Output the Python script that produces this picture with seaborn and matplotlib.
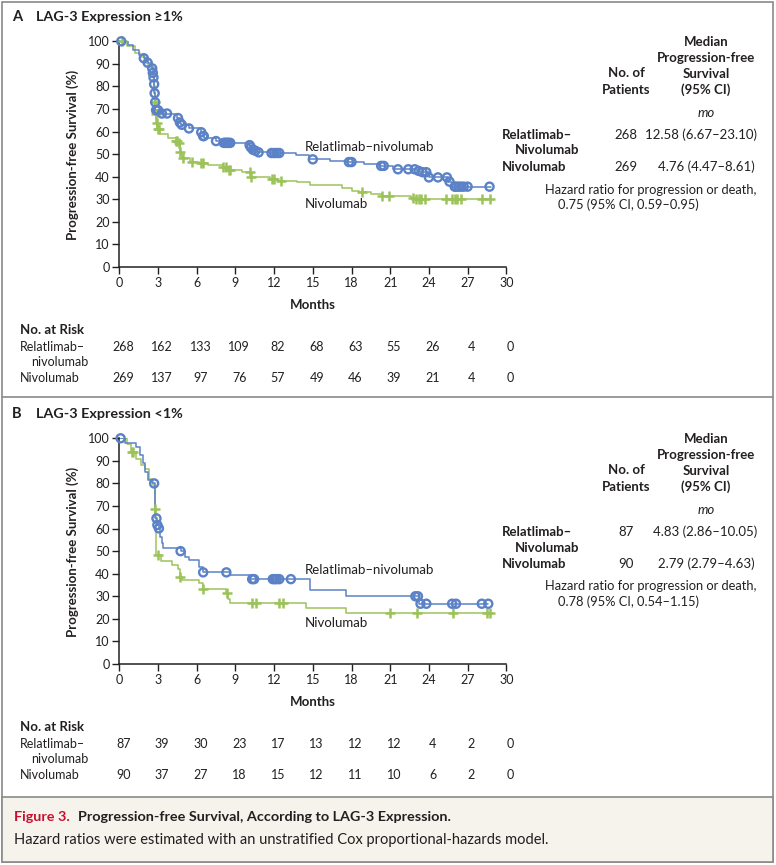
import numpy as np
import pandas as pd
import matplotlib
matplotlib.use("Agg")
import matplotlib.pyplot as plt
import matplotlib.transforms as mtransforms
from matplotlib.patches import Rectangle
import seaborn as sns

# ---------------- data ----------------
months_ticks = [0, 3, 6, 9, 12, 15, 18, 21, 24, 27, 30]
surv_ticks = [0, 10, 20, 30, 40, 50, 60, 70, 80, 90, 100]

# Panel A (LAG-3 >= 1%)
A_rel_t = [0, 0.7, 1.1, 1.5, 1.9, 2.2, 2.5, 2.58, 2.63, 2.68, 2.72, 2.76, 2.8, 3.2, 4.5, 4.65, 4.8, 5.4,
           6.3, 6.45, 6.6, 7.5, 8.0, 10.05, 10.15, 10.3, 10.5, 10.7, 11.7, 13.7, 14.7, 16.3, 17.6, 19.0,
           20.1, 21.2, 23.1, 23.3, 24.0, 25.5, 25.8, 28.8]
A_rel_s = [100, 98.4, 96.1, 94, 92.5, 90.5, 88, 86, 84, 81, 77, 73, 69.5, 68, 66, 64, 63, 61.4,
           59.7, 58, 57, 55.8, 55, 54, 53, 52, 51.5, 50.8, 50.5, 49.6, 47.7, 47, 46.5, 45.5,
           44.8, 43.3, 42.6, 42.0, 39.7, 37.8, 35.6, 35.6]
A_rel_cens = [0.15, 1.9, 2.2, 2.55, 2.6, 2.65, 2.7, 2.74, 2.78, 2.85, 3.0, 3.3, 3.7, 4.55, 4.7, 4.85, 5.4,
              6.35, 6.5, 6.55, 7.5, 8.1, 8.2, 8.3, 8.4, 8.5, 8.6, 10.1, 10.2, 10.35, 10.55, 10.8,
              11.8, 12.0, 12.2, 12.4, 15.0, 17.8, 18.0, 20.3, 20.5, 21.6, 22.4, 22.9, 23.2, 23.5, 23.8,
              24.0, 24.7, 25.4, 25.6, 26.0, 26.1, 26.3, 26.5, 26.7, 27.0, 28.7]

A_niv_t = [0, 0.6, 1.2, 1.6, 2.0, 2.2, 2.68, 2.74, 2.8, 2.86, 2.95, 3.15, 3.8, 4.4, 4.6, 4.7, 4.85, 5.5,
           6.2, 6.9, 8.0, 8.5, 9.5, 10.2, 11.7, 12.3, 13.8, 14.8, 17.3, 18.0, 18.6, 19.5, 20.4, 22.6,
           23.0, 28.8]
A_niv_s = [100, 98, 95, 93, 90.5, 88.5, 80, 73, 68, 64, 61, 59, 57, 56, 55, 50.8, 48.2, 46.7,
           46, 45.2, 44.5, 43, 42.2, 40, 39, 38.3, 37.6, 36.2, 34.9, 33.7, 33.2, 32.3, 31.4, 30.5,
           30, 30]
A_niv_cens = [0.2, 2.75, 2.82, 2.9, 3.0, 3.1, 4.4, 4.5, 4.6, 4.72, 4.9, 5.6, 6.3, 6.5, 8.0, 8.3,
              8.5, 8.6, 10.1, 10.2, 11.8, 12.0, 12.5, 18.8, 20.4, 20.9, 22.8, 23.0, 23.2, 23.4, 23.7,
              25.3, 25.8, 26.0, 26.2, 26.5, 28.1, 28.7]

# Panel B (LAG-3 < 1%)
B_rel_t = [0, 0.45, 1.3, 1.6, 1.85, 2.0, 2.25, 2.5, 2.78, 2.9, 3.05, 3.15, 3.3, 3.4, 4.75, 5.1, 5.4,
           6.2, 6.5, 8.6, 10.1, 14.8, 17.6, 23.2, 28.6]
B_rel_s = [100, 98, 96.3, 92.6, 88.9, 85, 81.5, 80, 64.5, 61.6, 60.1, 56.4, 53.5, 51.3, 50, 47.6, 46,
           43, 40.6, 39.4, 37.6, 32.8, 30, 26.7, 26.7]
B_rel_cens = [0.1, 2.7, 2.88, 2.95, 3.07, 4.75, 6.5, 8.3, 10.3, 10.45, 11.9, 12.05, 12.2, 12.4, 13.3,
              22.95, 23.15, 23.35, 23.8, 25.8, 26.1, 28.1, 28.6]

B_niv_t = [0, 0.6, 0.9, 1.3, 1.7, 2.0, 2.3, 2.6, 2.75, 2.85, 3.2, 4.1, 4.55, 4.7, 4.85, 6.2, 6.45,
           8.3, 8.45, 8.6, 14.5, 17.6, 28.7]
B_niv_s = [100, 97.5, 94, 91, 88, 86.5, 82, 79.5, 68.5, 48.5, 45.5, 43.8, 42, 38.5, 37.3, 35.8, 33.2,
           31.5, 28.8, 27, 24.7, 22.8, 22.8]
B_niv_cens = [0.95, 1.05, 2.8, 3.0, 4.7, 6.5, 8.35, 10.3, 10.6, 12.4, 12.7, 21.0, 23.1, 25.9, 28.5, 28.7]

risk_A_rel = [268, 162, 133, 109, 82, 68, 63, 55, 26, 4, 0]
risk_A_niv = [269, 137, 97, 76, 57, 49, 46, 39, 21, 4, 0]
risk_B_rel = [87, 39, 30, 23, 17, 13, 12, 12, 4, 2, 0]
risk_B_niv = [90, 37, 27, 18, 15, 12, 11, 10, 6, 2, 0]

summary_A = {"n": ["268", "269"], "median": ["12.58 (6.67\u201323.10)", "4.76 (4.47\u20138.61)"],
             "hr": "0.75 (95% CI, 0.59\u20130.95)"}
summary_B = {"n": ["87", "90"], "median": ["4.83 (2.86\u201310.05)", "2.79 (2.79\u20134.63)"],
             "hr": "0.78 (95% CI, 0.54\u20131.15)"}

# ---------------- style ----------------
sns.set_theme(style="ticks")
plt.rcParams["font.family"] = ["Lato", "DejaVu Sans"]
TXT = "#231f20"
BLUE = "#5b82c6"
GREEN = "#9cc35a"
RED = "#c8102e"
plt.rcParams["text.color"] = TXT
plt.rcParams["axes.labelcolor"] = TXT
plt.rcParams["xtick.color"] = TXT
plt.rcParams["ytick.color"] = TXT

W, H = 776, 865
fig = plt.figure(figsize=(W / 100, H / 100), dpi=100)
fig.patch.set_facecolor("white")


def fx(px):
    return px / W


def fy(py):
    return 1 - py / H


def ftext(x, y, s, **kw):
    kw.setdefault("va", "center")
    kw.setdefault("fontsize", 9.5)
    fig.text(fx(x), fy(y), s, **kw)


def step_lookup(t, s, q):
    t = np.asarray(t)
    s = np.asarray(s)
    idx = np.searchsorted(t, np.asarray(q), side="right") - 1
    return s[np.clip(idx, 0, len(s) - 1)]


# borders
fig.add_artist(Rectangle((fx(2), fy(862)), fx(771), fy(2) - fy(862),
                         transform=fig.transFigure, fill=False, ec="#8a8a8a", lw=1.2))
fig.add_artist(Rectangle((fx(2), fy(862)), fx(771), fy(797) - fy(862), transform=fig.transFigure,
                         fc="#f6f2ec", ec="#8a8a8a", lw=1.2))
fig.add_artist(plt.Line2D([fx(2), fx(773)], [fy(397), fy(397)], transform=fig.transFigure,
                          color="#8a8a8a", lw=1.2))


def panel(top_px, letter, title, rel_t, rel_s, rel_c, niv_t, niv_s, niv_c, lab_y_rel, lab_y_niv,
          risk_rel, risk_niv, summ):
    ax_top = top_px + 41.3
    ax_bot = top_px + 267
    ax = fig.add_axes([fx(119.3), fy(ax_bot), fx(506.3) - fx(119.3), fy(ax_top) - fy(ax_bot)])
    df_rel = pd.DataFrame({"t": rel_t, "s": rel_s})
    df_niv = pd.DataFrame({"t": niv_t, "s": niv_s})
    sns.lineplot(data=df_niv, x="t", y="s", ax=ax, color=GREEN, lw=1.1, drawstyle="steps-post",
                 estimator=None, sort=False)
    sns.lineplot(data=df_rel, x="t", y="s", ax=ax, color=BLUE, lw=1.1, drawstyle="steps-post",
                 estimator=None, sort=False)
    cn = pd.DataFrame({"t": niv_c, "s": step_lookup(niv_t, niv_s, niv_c)})
    cr = pd.DataFrame({"t": rel_c, "s": step_lookup(rel_t, rel_s, rel_c)})
    sns.scatterplot(data=cn, x="t", y="s", ax=ax, marker="+", color=GREEN, s=45, linewidth=1.8,
                    clip_on=False, zorder=4)
    sns.scatterplot(data=cr, x="t", y="s", ax=ax, marker="o", color=BLUE, facecolor="none",
                    edgecolor=BLUE, s=34, linewidth=1.7, clip_on=False, zorder=5)
    ax.set_xlim(0, 30)
    ax.set_ylim(0, 100)
    ax.set_xticks(months_ticks)
    ax.set_yticks(surv_ticks)
    ax.tick_params(axis="both", labelsize=9, length=5, width=1.0, pad=2, colors=TXT)
    sns.despine(ax=ax)
    for sp in ["left", "bottom"]:
        ax.spines[sp].set_linewidth(1.1)
        ax.spines[sp].set_color(TXT)
    ax.set_facecolor("none")
    ax.set_xlabel("")
    ax.set_ylabel("")
    ax.text(14.4, lab_y_rel, "Relatlimab\u2013nivolumab", fontsize=9.5, va="center", ha="left")
    ax.text(14.4, lab_y_niv, "Nivolumab", fontsize=9.5, va="center", ha="left")

    ftext(12, top_px + 17, letter, fontsize=10.5, fontweight="bold")
    ftext(36, top_px + 17, title, fontsize=10.4, fontweight="bold")
    ftext(73, top_px + 155, "Progression-free Survival (%)", fontsize=9.5, fontweight="bold",
          rotation=90, ha="center")
    ftext(313, top_px + 305, "Months", fontsize=9.5, fontweight="bold", ha="center")

    # risk table
    tr = mtransforms.blended_transform_factory(ax.transData, fig.transFigure)
    ftext(20, top_px + 330, "No. at Risk", fontsize=9.5, fontweight="bold")
    ftext(20, top_px + 347, "Relatlimab\u2013", fontsize=9)
    ftext(31, top_px + 362, "nivolumab", fontsize=9)
    ftext(20, top_px + 378, "Nivolumab", fontsize=9)
    for m, a, b in zip(months_ticks, risk_rel, risk_niv):
        ax.text(m + 0.3, fy(top_px + 347), str(a), transform=tr, fontsize=9, ha="center", va="center")
        ax.text(m + 0.3, fy(top_px + 378), str(b), transform=tr, fontsize=9, ha="center", va="center")

    # summary block
    for i, line in enumerate(["Median", "Progression-free", "Survival", "(95% CI)"]):
        ftext(706, top_px + 41.7 + 16.1 * i, line, fontsize=9.5, fontweight="bold", ha="center")
    ftext(626, top_px + 73.3, "No. of", fontsize=9.5, fontweight="bold", ha="center")
    ftext(626, top_px + 90, "Patients", fontsize=9.5, fontweight="bold", ha="center")
    ftext(706, top_px + 113.3, "mo", fontsize=9.5, style="italic", ha="center")
    ftext(501.5, top_px + 135, "Relatlimab\u2013", fontsize=9.5, fontweight="bold")
    ftext(515, top_px + 150.5, "Nivolumab", fontsize=9.5, fontweight="bold")
    ftext(501.5, top_px + 166.7, "Nivolumab", fontsize=9.5, fontweight="bold")
    ftext(626, top_px + 135, summ["n"][0], fontsize=9.5, ha="center")
    ftext(626, top_px + 166.7, summ["n"][1], fontsize=9.5, ha="center")
    ftext(757, top_px + 135, summ["median"][0], fontsize=9.5, ha="right")
    ftext(755, top_px + 166.7, summ["median"][1], fontsize=9.5, ha="right")
    ftext(545, top_px + 189.5, "Hazard ratio for progression or death,", fontsize=9.3)
    ftext(558, top_px + 204.5, summ["hr"], fontsize=9.3)
    return ax


panel(0, "A", "LAG-3 Expression \u22651%", A_rel_t, A_rel_s, A_rel_cens, A_niv_t, A_niv_s, A_niv_cens,
      53, 28, risk_A_rel, risk_A_niv, summary_A)
panel(397, "B", "LAG-3 Expression <1%", B_rel_t, B_rel_s, B_rel_cens, B_niv_t, B_niv_s, B_niv_cens,
      41.6, 18.3, risk_B_rel, risk_B_niv, summary_B)

# caption
t1 = fig.text(fx(14), fy(817), "Figure 3.", color=RED, fontsize=10.4, fontweight="bold", va="center")
fig.text(fx(78), fy(817), "Progression-free Survival, According to LAG-3 Expression.", color=TXT,
         fontsize=10.4, fontweight="bold", va="center")
fig.text(fx(14), fy(840), "Hazard ratios were estimated with an unstratified Cox proportional-hazards model.",
         color=TXT, fontsize=10.5, va="center")

fig.savefig("out.png", dpi=100)
